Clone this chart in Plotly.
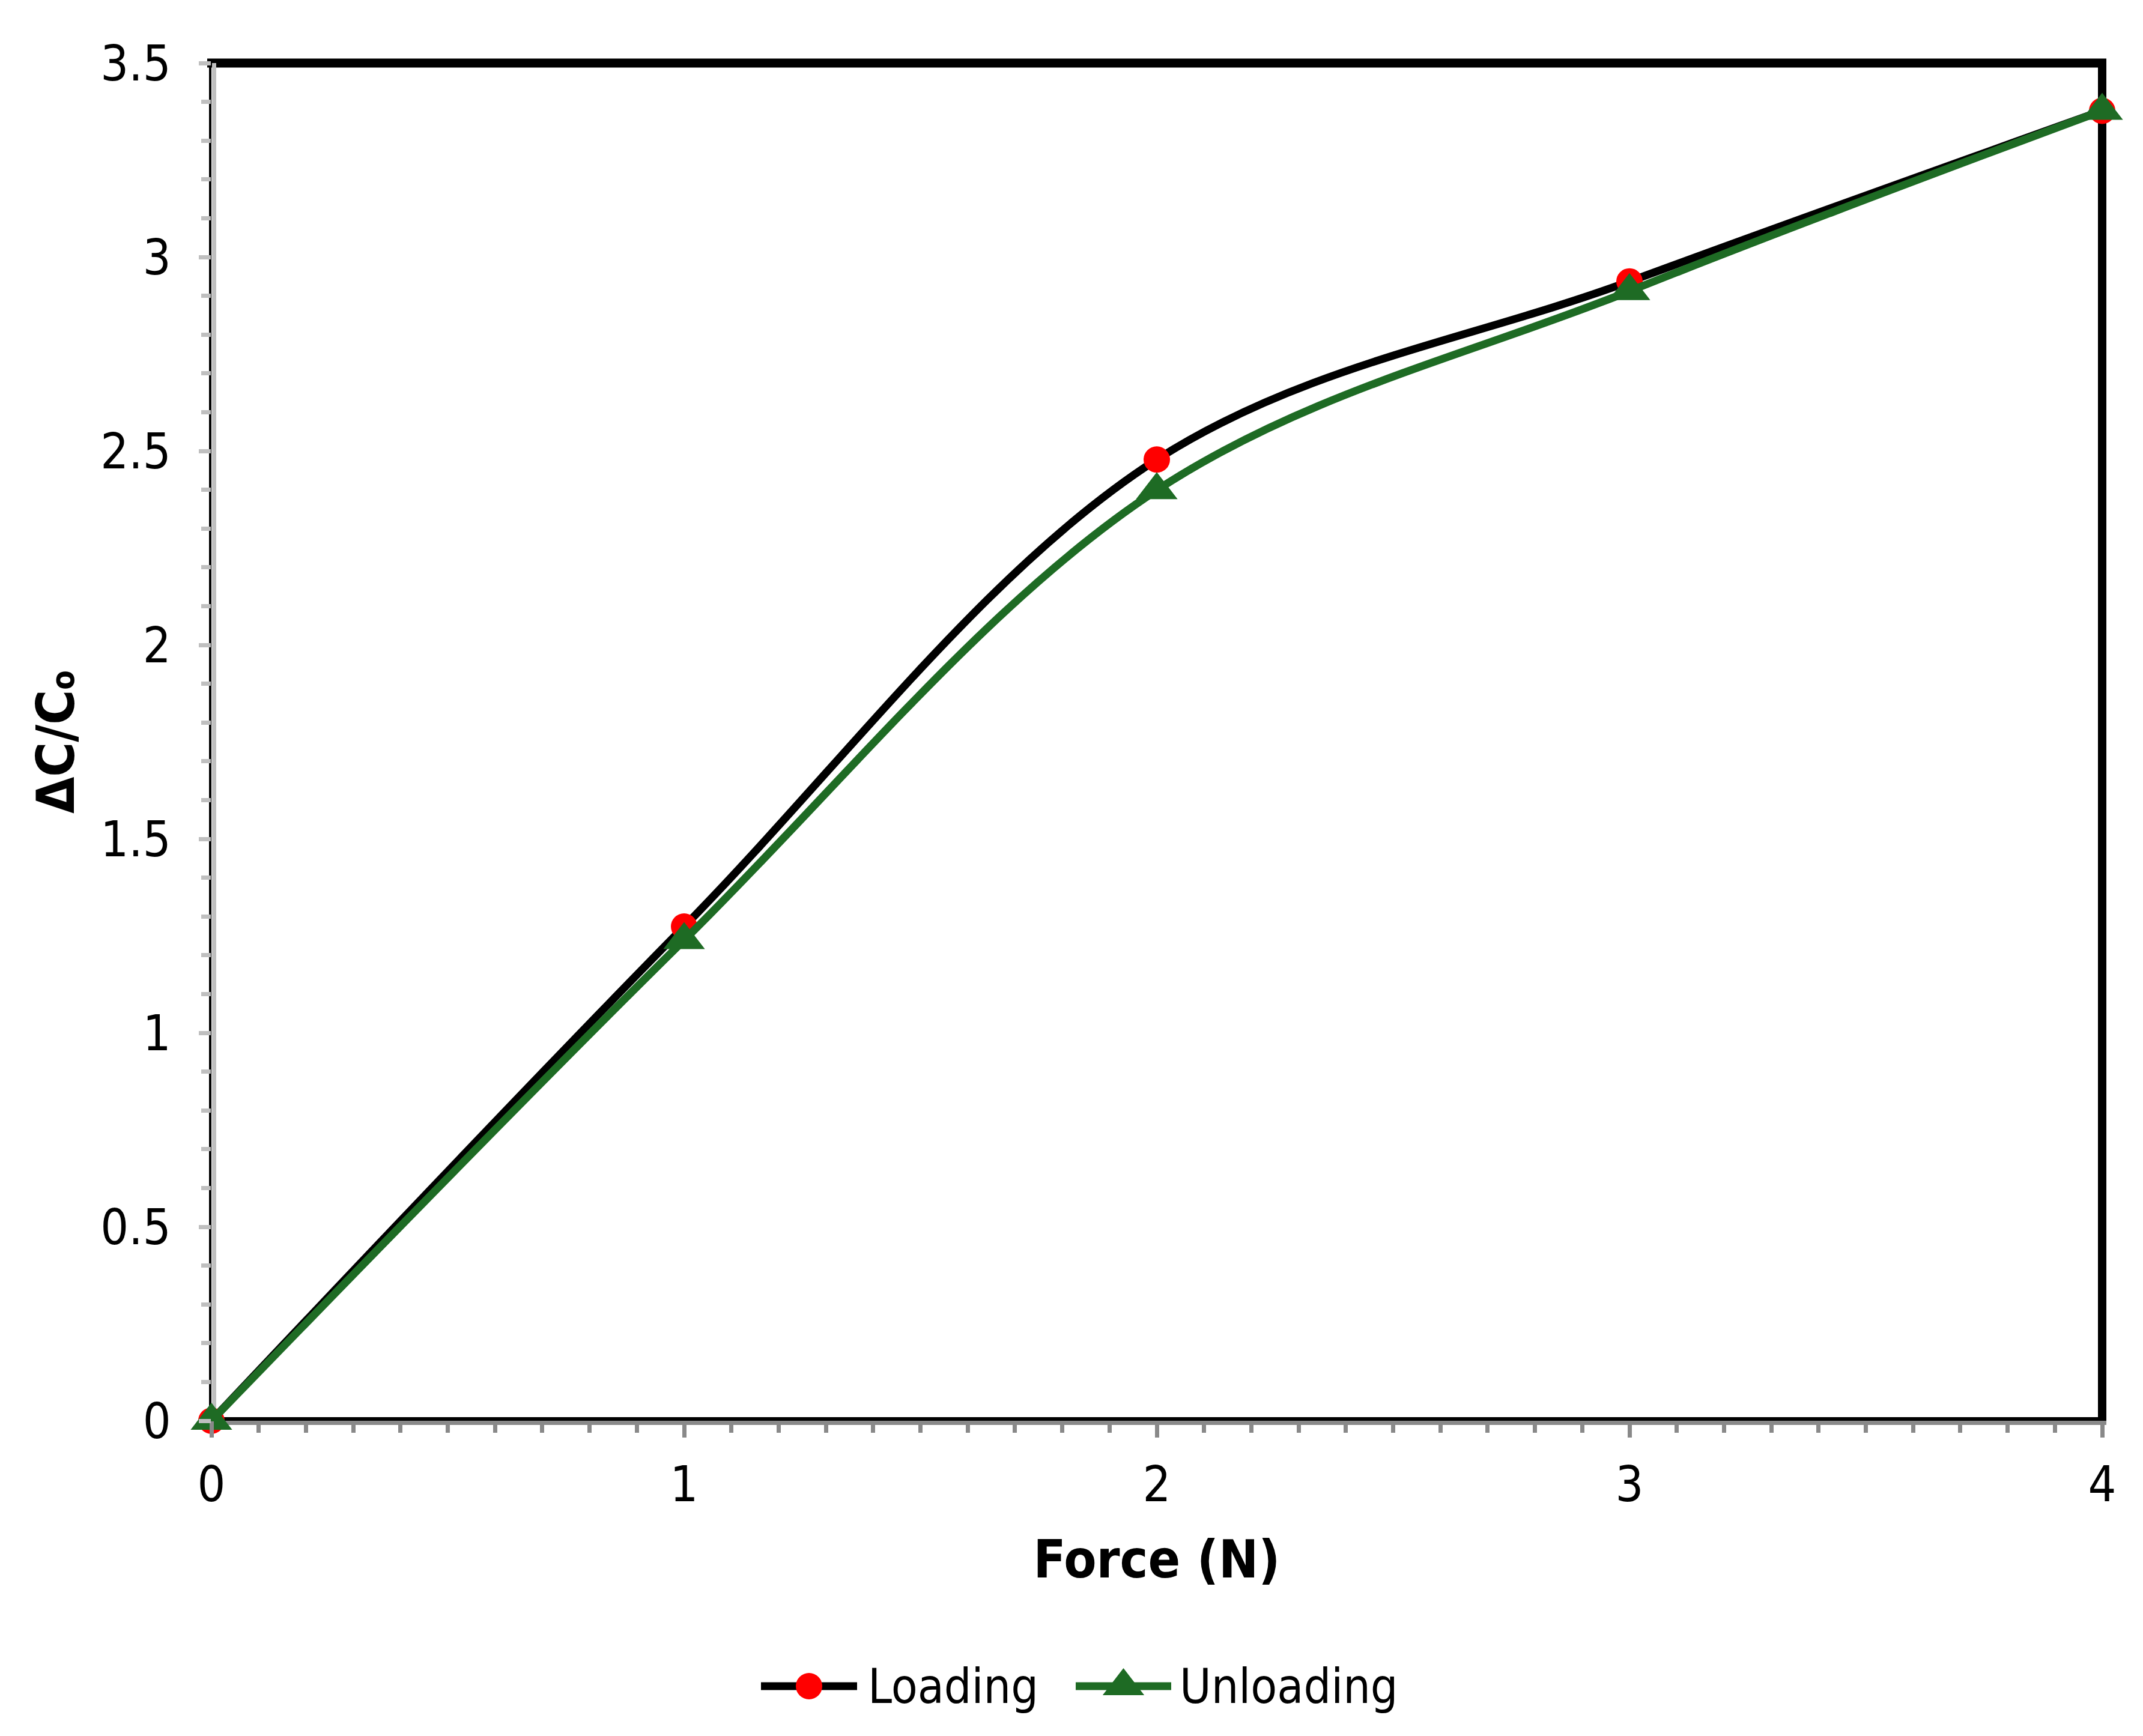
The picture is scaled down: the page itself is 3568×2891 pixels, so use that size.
import plotly.graph_objects as go

# ---------------- data ----------------
force = [0, 1, 2, 3, 4]
loading = [0, 1.274, 2.478, 2.937, 3.377]
unloading = [0, 1.239, 2.399, 2.912, 3.377]
series_names = ["Loading", "Unloading"]
x_ticks = [0, 1, 2, 3, 4]
y_ticks = [0, 0.5, 1, 1.5, 2, 2.5, 3, 3.5]

# ---------------- style ----------------
W, H = 3568, 2891
PL, PR, PT, PB = 352, 3500, 105, 2366          # plot-area edges in px
FONT = "DejaVu Sans Condensed, DejaVu Sans, sans-serif"
BLACK = "#000000"
RED = "#ff0000"
GREEN = "#1e6b24"
LW = 13

fig = go.Figure()

fig.add_trace(go.Scatter(
    x=force, y=loading, name=series_names[0], mode="lines+markers",
    line=dict(color=BLACK, width=LW, shape="spline", smoothing=1),
    marker=dict(symbol="circle", size=44, color=RED),
    cliponaxis=False, showlegend=False))
fig.add_trace(go.Scatter(
    x=force, y=unloading, name=series_names[1], mode="lines+markers",
    line=dict(color=GREEN, width=LW, shape="spline", smoothing=1),
    marker=dict(symbol="triangle-up", size=60, color=GREEN),
    cliponaxis=False, showlegend=False))

# ---------------- custom legend (pixel overlay axes) ----------------
LEG_Y = 2808
leg_items = [
    dict(x0=1267, x1=1427, color=BLACK, mcolor=RED, symbol="circle", msize=44, tx=1443),
    dict(x0=1791, x1=1950, color=GREEN, mcolor=GREEN, symbol="triangle-up", msize=60, tx=1962),
]
for name, it in zip(series_names, leg_items):
    fig.add_trace(go.Scatter(
        x=[it["x0"], it["x1"]], y=[LEG_Y, LEG_Y], mode="lines",
        line=dict(color=it["color"], width=LW), xaxis="x2", yaxis="y2",
        showlegend=False, hoverinfo="skip"))
    fig.add_trace(go.Scatter(
        x=[(it["x0"] + it["x1"]) / 2], y=[LEG_Y], mode="markers",
        marker=dict(symbol=it["symbol"], size=it["msize"], color=it["mcolor"]),
        xaxis="x2", yaxis="y2", showlegend=False, hoverinfo="skip"))

annotations = []
for name, it in zip(series_names, leg_items):
    annotations.append(dict(
        text=name, x=it["tx"] / W, y=1 - LEG_Y / H, xref="paper", yref="paper",
        xanchor="left", yanchor="middle", showarrow=False,
        font=dict(family=FONT, size=80, color=BLACK)))

# ---------------- frame shapes ----------------
ex = 7 / (PR - PL)
ey = 7 / (PB - PT)
shapes = [
    dict(type="line", xref="x domain", yref="y domain", x0=-ex, x1=1 + ex, y0=1, y1=1,
         line=dict(color=BLACK, width=15), layer="below"),
    dict(type="line", xref="x domain", yref="y domain", x0=1, x1=1, y0=-ey, y1=1 + ey,
         line=dict(color=BLACK, width=14), layer="below"),
    dict(type="line", xref="x domain", yref="y domain", xsizemode="pixel", xanchor=0,
         x0=-2, x1=-2, y0=0, y1=1 + ey, line=dict(color=BLACK, width=4), layer="below"),
    dict(type="line", xref="x domain", yref="y domain", xsizemode="pixel", xanchor=0,
         x0=4.5, x1=4.5, y0=0, y1=1, line=dict(color="#bfbfbf", width=7), layer="below"),
    dict(type="line", xref="x domain", yref="y domain", ysizemode="pixel", yanchor=0,
         y0=3, y1=3, x0=0, x1=1, line=dict(color=BLACK, width=6), layer="below"),
    dict(type="line", xref="x domain", yref="y domain", ysizemode="pixel", yanchor=0,
         y0=-3.5, y1=-3.5, x0=-ex * 0.6, x1=1 + ex, line=dict(color="#898989", width=7), layer="below"),
]

fig.update_layout(
    width=W, height=H,
    margin=dict(l=0, r=0, t=0, b=0),
    paper_bgcolor="white", plot_bgcolor="rgba(0,0,0,0)",
    font=dict(family=FONT, color=BLACK),
    showlegend=False,
    xaxis=dict(
        domain=[PL / W, PR / W], range=[0, 4], tickvals=x_ticks,
        ticks="outside", ticklen=27, tickwidth=7, tickcolor="#898989",
        minor=dict(dtick=0.1, ticks="outside", ticklen=19, tickwidth=7, tickcolor="#898989"),
        showline=False, showgrid=False, zeroline=False,
        tickfont=dict(family=FONT, size=82, color=BLACK), ticklabelstandoff=8,
        title=dict(text="<b>Force (N)</b>", font=dict(family=FONT, size=88, color=BLACK), standoff=46),
        automargin=False, anchor="y"),
    yaxis=dict(
        domain=[1 - PB / H, 1 - PT / H], range=[0, 3.5], tickvals=y_ticks,
        ticks="outside", ticklen=20, tickwidth=7, tickcolor="#bfbfbf",
        minor=dict(dtick=0.1, ticks="outside", ticklen=16, tickwidth=7, tickcolor="#bfbfbf"),
        showline=False, showgrid=False, zeroline=False,
        tickfont=dict(family=FONT, size=82, color=BLACK), ticklabelstandoff=30,
        title=dict(text="<b>ΔC/C<span style='font-size:60%'>o</span></b>",
                   font=dict(family=FONT, size=88, color=BLACK), standoff=14),
        automargin=False, anchor="x"),
    xaxis2=dict(domain=[0, 1], range=[0, W], visible=False, anchor="y2", fixedrange=True),
    yaxis2=dict(domain=[0, 1], range=[H, 0], visible=False, anchor="x2", fixedrange=True),
    shapes=shapes,
    annotations=annotations,
)

fig.write_html("out.html")
